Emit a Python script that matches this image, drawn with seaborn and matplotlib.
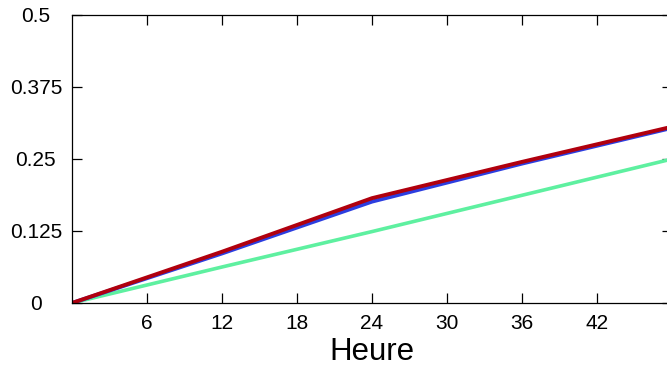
import matplotlib
matplotlib.use('Agg')
import matplotlib.pyplot as plt
import seaborn as sns
import pandas as pd

# valeurs
heures = [0, 12, 24, 36, 48]
serie_verte = [0.0, 0.0625, 0.124, 0.187, 0.25]
serie_bleue = [0.0, 0.086, 0.176, 0.242, 0.304]
serie_rouge = [0.0, 0.089, 0.182, 0.245, 0.306]
xticks = [6, 12, 18, 24, 30, 36, 42]
yticks = [0, 0.125, 0.25, 0.375, 0.5]
ytick_labels = ['0', '0.125', '0.25', '0.375', '0.5']

sns.set_style('white')
plt.rcParams['font.family'] = ['Liberation Sans', 'DejaVu Sans']
plt.rcParams['text.color'] = 'black'
plt.rcParams['axes.labelcolor'] = 'black'
plt.rcParams['xtick.color'] = 'black'
plt.rcParams['ytick.color'] = 'black'

df = pd.DataFrame({'Heure': heures, 'vert': serie_verte,
                   'bleu': serie_bleue, 'rouge': serie_rouge})

fig = plt.figure(figsize=(6.67, 3.68), dpi=100)
ax = fig.add_axes([72 / 667, 65 / 368, 600 / 667, 288 / 368])

sns.lineplot(data=df, x='Heure', y='vert', ax=ax, color='#5ef0a0', linewidth=2.6)
sns.lineplot(data=df, x='Heure', y='bleu', ax=ax, color='#2c3ee0', linewidth=2.8)
sns.lineplot(data=df, x='Heure', y='rouge', ax=ax, color='#b0000e', linewidth=2.8)

ax.set_xlim(0, 48)
ax.set_ylim(0, 0.5)
ax.set_xticks(xticks)
ax.set_yticks(yticks)
ax.set_yticklabels(ytick_labels)
ax.set_xlabel('Heure', fontsize=22.5, labelpad=3, color='black')
ax.set_ylabel('')

for s in ax.spines.values():
    s.set_visible(True)
    s.set_color('black')
    s.set_linewidth(0.9)

ax.tick_params(axis='both', direction='in', length=7, width=0.9, color='black',
               labelcolor='black', top=True, right=True, bottom=True, left=True,
               labelsize=15)
ax.tick_params(axis='x', pad=8)
ax.tick_params(axis='y', pad=26)
for lab in ax.get_yticklabels():
    lab.set_horizontalalignment('center')

fig.savefig('out.png', dpi=100)
